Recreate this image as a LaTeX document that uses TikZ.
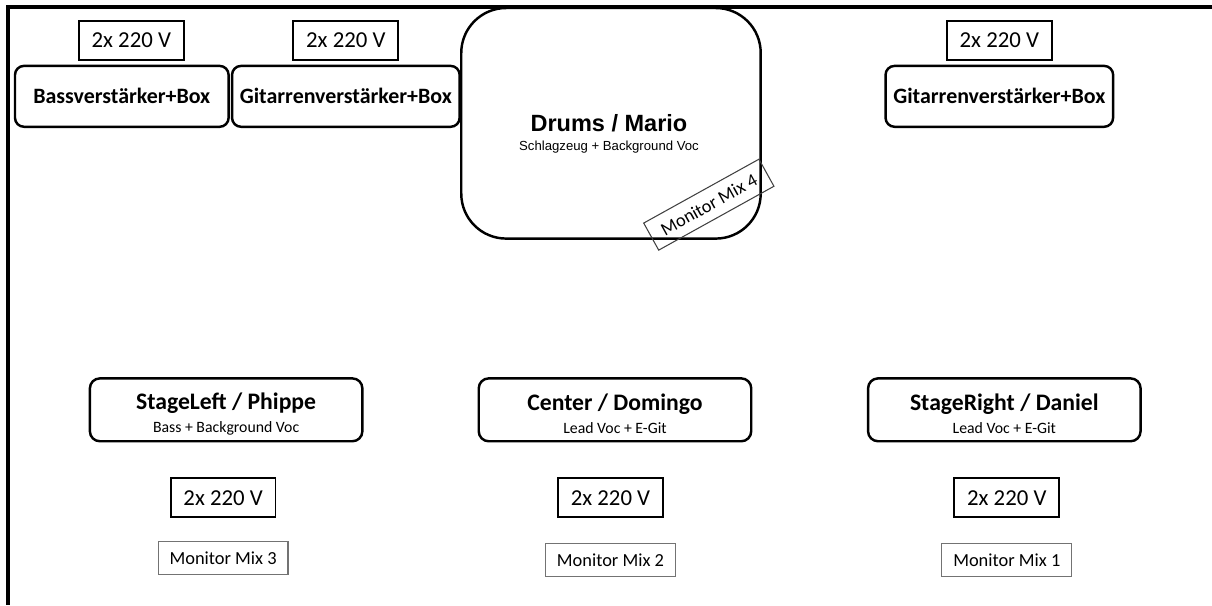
\documentclass[tikz,border=0pt]{standalone}
\usepackage{fontspec}
\setmainfont{Carlito}
\newfontfamily\arialfont{Liberation Sans}
\usetikzlibrary{positioning}

\begin{document}
\begin{tikzpicture}[
    x=0.02cm, y=-0.02cm,
    node distance=0.08cm and 0.02cm,
    ampbox/.style={rectangle, draw, line width=1.4pt, rounded corners=0.18cm, minimum width=4.28cm, minimum height=1.22cm, inner sep=0pt, align=center, font=\fontsize{12.5}{15}\selectfont\bfseries},
    powerbox/.style={rectangle, draw, line width=1.1pt, minimum width=2.1cm, minimum height=0.78cm, inner sep=0pt, font=\fontsize{13}{15}\selectfont},
    stagebox/.style={rectangle, draw, line width=1.4pt, rounded corners=0.2cm, minimum width=5.46cm, minimum height=1.26cm, inner sep=0pt, align=center},
    mixbox/.style={rectangle, draw=black!55, line width=0.6pt, minimum width=2.6cm, minimum height=0.66cm, inner sep=0pt, font=\fontsize{10.5}{13}\selectfont},
    frame/.style={line width=2.3pt, line cap=rect}
]
\newcommand{\stagetext}[2]{\rule{0pt}{14pt}{\fontsize{13.5}{16}\selectfont\bfseries #1}\\[1pt]\fontsize{9}{12.5}\selectfont #2}

% stage frame
\draw[frame] (8,604) -- (8,7) -- (1212,7);

% backline
\node[ampbox] (bassamp) at (122,96.5) {Bassverstärker+Box};
\node[ampbox, minimum width=4.56cm, right=0.02cm of bassamp] (gitamp1) {Gitarrenverstärker+Box};
\node[ampbox, minimum width=4.56cm] (gitamp2) at (1001,96.5) {Gitarrenverstärker+Box};

\node[powerbox, above=0.08cm of bassamp, xshift=0.19cm] (power1) {2x 220 V};
\node[powerbox, above=0.08cm of gitamp1] (power2) {2x 220 V};
\node[powerbox, above=0.08cm of gitamp2] (power3) {2x 220 V};

% drums
\node[draw, line width=1.4pt, rounded corners=0.9cm, minimum width=6cm, minimum height=4.62cm] (drums) at (612,123.5) {};
\node[align=center, font=\arialfont] (drumstext) at (610,134) {{\fontsize{13.4}{16}\selectfont\bfseries Drums / Mario}\\[-1pt]\fontsize{7.5}{10}\selectfont Schlagzeug + Background Voc};
\node[mixbox, draw=black!75, minimum width=2.64cm, minimum height=0.62cm, rotate=29] (mix4) at (710,205) {Monitor Mix 4};

% front line
\node[stagebox] (stageleft) at (226.5,410.5) {\stagetext{StageLeft / Phippe}{Bass + Background Voc}};
\node[stagebox] (center) at (616,410.5) {\stagetext{Center / Domingo}{Lead Voc + E-Git}};
\node[stagebox] (stageright) at (1006,410.5) {\stagetext{StageRight / Daniel}{Lead Voc + E-Git}};

\node[powerbox, below=0.7cm of stageleft, xshift=-0.06cm] (power4) {2x 220 V};
\node[powerbox, below=0.7cm of center, xshift=-0.09cm] (power5) {2x 220 V};
\node[powerbox, below=0.7cm of stageright, xshift=0.05cm] (power6) {2x 220 V};

\node[mixbox, below=0.46cm of power4] (mix3) {Monitor Mix 3};
\node[mixbox, below=0.5cm of power5] (mix2) {Monitor Mix 2};
\node[mixbox, below=0.5cm of power6] (mix1) {Monitor Mix 1};

\useasboundingbox (0,0) rectangle (1212,604);
\end{tikzpicture}
\end{document}
